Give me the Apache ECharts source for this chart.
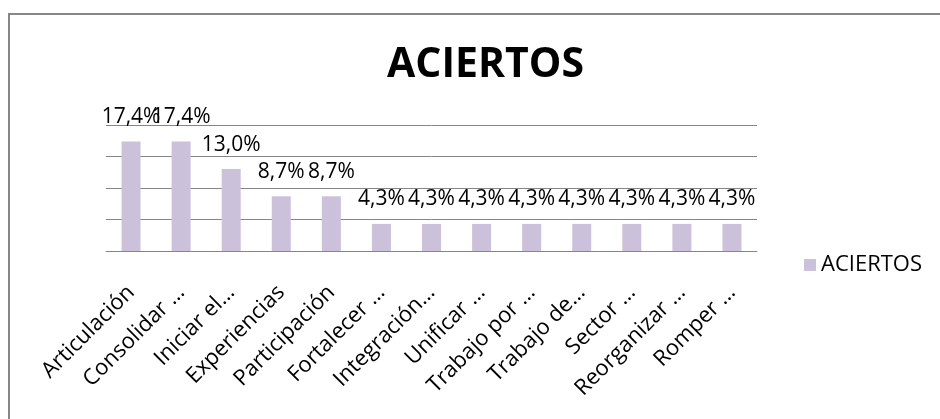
<!DOCTYPE html>
<html>
<head>
<meta charset="utf-8">
<script src="https://cdn.jsdelivr.net/npm/echarts@6/dist/echarts.min.js"></script>
<style>
  html, body { margin: 0; padding: 0; background: #fff; }
  #chart { width: 940px; height: 419px; }
</style>
</head>
<body>
<div id="chart"></div>
<script>
const categories = [
  'Articulación', 'Consolidar …', 'Iniciar el…', 'Experiencias', 'Participación',
  'Fortalecer …', 'Integración…', 'Unificar …', 'Trabajo por …', 'Trabajo de…',
  'Sector …', 'Reorganizar …', 'Romper …'
]
const aciertos = [17.4, 17.4, 13.0, 8.7, 8.7, 4.3, 4.3, 4.3, 4.3, 4.3, 4.3, 4.3, 4.3]
const seriesName = 'ACIERTOS'

const font = "'Open Sans', sans-serif"
const chart = echarts.init(document.getElementById('chart'))

const option = {
  backgroundColor: '#fff',
  animation: false,
  title: {
    text: 'ACIERTOS',
    left: 382,
    top: 40,
    textStyle: { fontFamily: font, fontSize: 41, fontWeight: 'bold', color: '#000' }
  },
  legend: {
    data: [seriesName],
    left: 799,
    top: 249,
    itemWidth: 12,
    itemHeight: 12,
    itemGap: 9,
    icon: 'rect',
    textStyle: { fontFamily: font, fontSize: 22, color: '#000' }
  },
  grid: { left: 106, right: 183, top: 125, bottom: 168 },
  xAxis: {
    type: 'category',
    data: categories,
    axisLine: { lineStyle: { color: '#868686', width: 1 } },
    axisTick: { length: 9, lineStyle: { color: '#868686' } },
    axisLabel: {
      interval: 0,
      rotate: 45,
      margin: 38,
      fontFamily: font,
      fontSize: 22,
      color: '#000'
    }
  },
  yAxis: {
    type: 'value',
    min: 0,
    max: 20,
    interval: 5,
    axisLine: { show: false },
    axisTick: { show: false },
    axisLabel: { show: false },
    splitLine: { lineStyle: { color: '#868686', width: 1 } }
  },
  series: [{
    name: seriesName,
    type: 'bar',
    data: aciertos,
    barWidth: 19,
    itemStyle: { color: '#CCC1DA' },
    label: {
      show: true,
      position: 'top',
      distance: 14,
      fontFamily: font,
      fontSize: 21,
      color: '#000',
      formatter: p => p.value.toFixed(1).replace('.', ',') + '%'
    }
  }],
  graphic: [{
    type: 'rect',
    shape: { x: 9, y: 14, width: 1000, height: 1000 },
    style: { fill: 'none', stroke: '#868686', lineWidth: 2 },
    silent: true
  }]
}

chart.setOption(option)
</script>
</body>
</html>
